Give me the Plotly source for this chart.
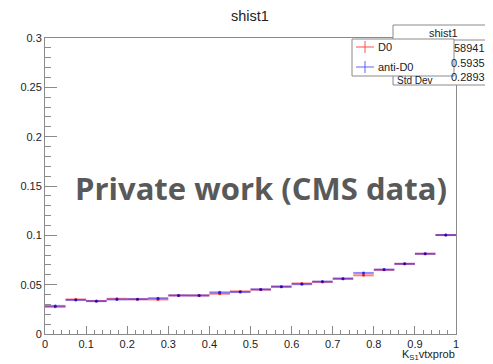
import plotly.graph_objects as go

# ---- data ----
bin_edges = [i * 0.05 for i in range(21)]
bin_centers = [0.025 + i * 0.05 for i in range(20)]
d0_values = [0.0275, 0.0350, 0.0335, 0.0357, 0.0352, 0.0350, 0.0391, 0.0390, 0.0408, 0.0432,
             0.0450, 0.0480, 0.0512, 0.0528, 0.0561, 0.0595, 0.0650, 0.0711, 0.0813, 0.1003]
antid0_values = [0.0285, 0.0345, 0.0333, 0.0350, 0.0353, 0.0363, 0.0391, 0.0391, 0.0422, 0.0425,
                 0.0452, 0.0480, 0.0505, 0.0531, 0.0561, 0.0619, 0.0653, 0.0711, 0.0813, 0.1003]
series_names = ["D0", "anti-D0"]
x_ticks = [0, 0.1, 0.2, 0.3, 0.4, 0.5, 0.6, 0.7, 0.8, 0.9, 1.0]
x_ticklabels = ["0", "0.1", "0.2", "0.3", "0.4", "0.5", "0.6", "0.7", "0.8", "0.9", "1"]
y_ticks = [0, 0.05, 0.1, 0.15, 0.2, 0.25, 0.3]
y_ticklabels = ["0", "0.05", "0.1", "0.15", "0.2", "0.25", "0.3"]
stats_title = "shist1"
stats_values = ["58941", "0.5935", "0.2893"]

# page has an 8px body margin: the figure is offset by OFF px right and down
OFF = 8
W, H = 493 - OFF, 364 - OFF
# plot area in page pixels
PL, PR, PT, PB = 45, 456, 38, 334


def px_x(px):
    return (px - PL) / (PR - PL)


def px_y(py):
    return (PB - py) / (PB - PT)


half_widths = [(bin_edges[i + 1] - bin_edges[i]) / 2 for i in range(20)]
line_cols = ["rgba(255,0,0,0.5)", "rgba(0,0,255,0.45)"]
mark_cols = ["rgba(220,0,0,0.7)", "rgba(0,0,220,0.7)"]
glyph_cols = ["rgba(255,60,60,0.9)", "rgba(80,80,255,0.9)"]

fig = go.Figure()
for name, vals, lc, mc in zip(series_names, [d0_values, antid0_values], line_cols, mark_cols):
    fig.add_trace(go.Scatter(
        x=bin_centers, y=vals, mode="markers", name=name, showlegend=False,
        marker=dict(size=3, color=mc),
        error_x=dict(type="data", array=half_widths, width=0, thickness=2, color=lc),
    ))

axis_col = "#8a8a8a"
fig.update_layout(
    width=W, height=H, autosize=False,
    margin=dict(l=PL - OFF, r=(W + OFF) - PR, t=PT - OFF, b=(H + OFF) - PB, autoexpand=False),
    paper_bgcolor="white", plot_bgcolor="white",
    font=dict(family="Liberation Sans, Arial, sans-serif", size=11, color="#222"),
    title=dict(text="shist1", x=px_x(250), xref="paper", xanchor="center", yref="container",
               y=1 - (16 - OFF) / H, yanchor="middle", font=dict(size=14.5, color="#222")),
    xaxis=dict(range=[0, 1], showgrid=False, zeroline=False, showline=True, linecolor=axis_col, linewidth=1,
               mirror=True, ticks="inside", ticklen=8, tickcolor=axis_col, tickvals=x_ticks,
               ticktext=x_ticklabels, tickfont=dict(size=11),
               minor=dict(dtick=0.02, ticks="inside", ticklen=4, tickcolor=axis_col, showgrid=False)),
    yaxis=dict(range=[0, 0.3], showgrid=False, zeroline=False, showline=True, linecolor=axis_col, linewidth=1,
               mirror=True, ticks="inside", ticklen=12, tickcolor=axis_col, tickvals=y_ticks,
               ticktext=y_ticklabels, tickfont=dict(size=11),
               minor=dict(dtick=0.01, ticks="inside", ticklen=6, tickcolor=axis_col, showgrid=False)),
    showlegend=False,
)

# stats box (drawn first, partly covered by the legend box)
fig.add_shape(type="rect", xref="paper", yref="paper", x0=px_x(393), x1=px_x(505), y0=px_y(85), y1=px_y(25),
              line=dict(color=axis_col, width=1), fillcolor="white", layer="above")
fig.add_shape(type="line", xref="paper", yref="paper", x0=px_x(393), x1=px_x(505), y0=px_y(40), y1=px_y(40),
              line=dict(color=axis_col, width=1), layer="above")
fig.add_annotation(xref="paper", yref="paper", x=px_x(443), y=px_y(33), text=stats_title, showarrow=False,
                   xanchor="center", yanchor="middle", font=dict(size=11, color="#222"))
for i, v in enumerate(stats_values):
    fig.add_annotation(xref="paper", yref="paper", x=px_x(486), y=px_y(48 + i * 14.5), text=v, showarrow=False,
                       xanchor="right", yanchor="middle", borderpad=0, font=dict(size=11, color="#222"))
fig.add_annotation(xref="paper", yref="paper", x=px_x(396), y=px_y(80.5), text="Std Dev", showarrow=False,
                   xanchor="left", yanchor="middle", borderpad=0, font=dict(size=10, color="#222"))

# legend box with cross glyphs
fig.add_shape(type="rect", xref="paper", yref="paper", x0=px_x(352), x1=px_x(454), y0=px_y(76), y1=px_y(39),
              line=dict(color=axis_col, width=1), fillcolor="white", layer="above")
for i, (name, gc) in enumerate(zip(series_names, glyph_cols)):
    cy = 47 + i * 20
    fig.add_shape(type="line", xref="paper", yref="paper", x0=px_x(356), x1=px_x(374), y0=px_y(cy), y1=px_y(cy),
                  line=dict(color=gc, width=1), layer="above")
    fig.add_shape(type="line", xref="paper", yref="paper", x0=px_x(365), x1=px_x(365), y0=px_y(cy - 6),
                  y1=px_y(cy + 6), line=dict(color=gc, width=1), layer="above")
    fig.add_annotation(xref="paper", yref="paper", x=px_x(376), y=px_y(cy), text=name, showarrow=False,
                       xanchor="left", yanchor="middle", font=dict(size=11, color="#222"))

# axis title
fig.add_annotation(xref="paper", yref="paper", x=px_x(456), y=px_y(355),
                   text="K<sub>S1</sub>vtxprob", showarrow=False, xanchor="right", yanchor="middle",
                   borderpad=0, font=dict(size=11, color="#222"))

# watermark
fig.add_annotation(xref="paper", yref="paper", x=px_x(261), y=px_y(188),
                   text="<b>Private work (CMS data)</b>", showarrow=False, xanchor="center", yanchor="middle",
                   font=dict(family="Open Sans, sans-serif", size=31, color="#595959"))

fig.write_html("out.html")
